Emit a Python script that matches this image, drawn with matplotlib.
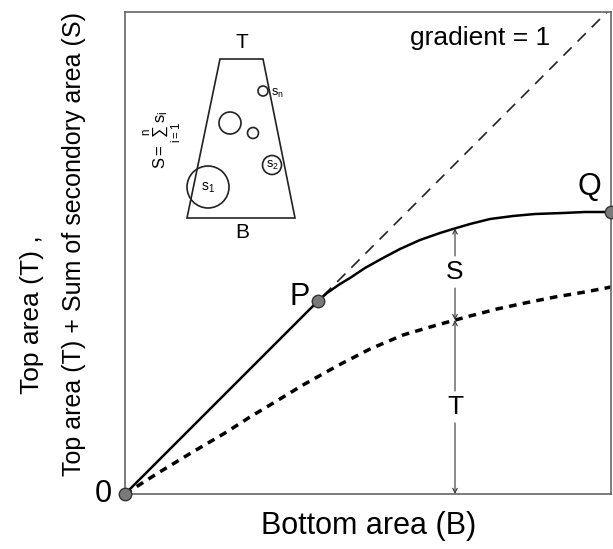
import numpy as np
import matplotlib
matplotlib.use("Agg")
import matplotlib.pyplot as plt
from matplotlib.patches import Circle, Polygon

plt.rcParams['font.family'] = ['Liberation Sans', 'DejaVu Sans']
plt.rcParams['mathtext.fontset'] = 'custom'
plt.rcParams['mathtext.rm'] = 'Liberation Sans'
plt.rcParams['mathtext.it'] = 'Liberation Sans'

# axis extent (arbitrary units, bottom area vs top area)
x_max = 486
y_max = 482

# points 0, P, Q
pt_zero = (0, 0)
pt_p = (193, 193)
pt_q = (486, 282)

# upper curve T + S (solid), from P to Q
x_upper = [193, 202, 215, 225, 240, 258, 275, 295, 315, 328, 345, 365, 388, 410, 438, 460, 486]
y_upper = [193, 201, 210, 216, 226, 236, 245, 254, 261, 265, 270, 275, 278, 280, 281, 282, 282]

# lower curve T (dashed), from 0 to right edge
x_lower = [0, 33, 66, 100, 125, 145, 178, 212, 245, 278, 312, 345, 372, 400, 430, 460, 486]
y_lower = [0, 21, 41, 61, 77, 89, 109, 128, 145, 159, 169, 178, 185, 191, 197, 202, 207]

# inset sketch: trapezoid and circles s_i
trap_x = [95, 138, 170, 62]
trap_y = [435, 435, 276, 276]
circ_x = [83, 147, 105, 128, 138]
circ_y = [307, 329, 371, 361, 403]
circ_r = [21, 9.5, 11, 5.5, 5]

fig = plt.figure(figsize=(6.13, 5.49), dpi=100)
ax = fig.add_axes([125 / 613, 55 / 549, 486 / 613, 482 / 549])
ax.set_xlim(0, x_max)
ax.set_ylim(0, y_max)
ax.set_xticks([])
ax.set_yticks([])
for s in ax.spines.values():
    s.set_color('#666666')
    s.set_linewidth(1.2)

# gradient = 1 line
ax.plot([0, x_max], [0, x_max], color='#222222', lw=1.2, dashes=(7, 5))
ax.plot([pt_zero[0], pt_p[0]], [pt_zero[1], pt_p[1]], color='black', lw=1.8)
ax.plot(x_upper, y_upper, color='black', lw=1.8)
ax.plot(x_lower, y_lower, color='black', lw=2.5, dashes=(2.2, 1.8))

for px, py in [pt_zero, pt_p, pt_q]:
    ax.plot(px, py, 'o', ms=9, mfc='#7a7a7a', mec='#333333', mew=1, clip_on=False, zorder=5)

ax.text(-22, 0, '0', fontsize=22, ha='center', va='center')
ax.text(pt_p[0] - 18, pt_p[1] + 4, 'P', fontsize=22, ha='center', va='center')
ax.text(pt_q[0] - 22, pt_q[1] + 25, 'Q', fontsize=22, ha='center', va='center')
ax.text(355, 456, 'gradient = 1', fontsize=19, ha='center', va='center')

# S and T arrows
ax_x = 330
top_y = np.interp(ax_x, x_upper, y_upper)
mid_y = np.interp(ax_x, x_lower, y_lower)
s_lab = 222
t_lab = 87
ax.text(ax_x, s_lab, 'S', fontsize=19, ha='center', va='center')
ax.text(ax_x, t_lab, 'T', fontsize=19, ha='center', va='center')
ap = dict(arrowstyle='->', lw=0.8, color='#333333', mutation_scale=8, shrinkA=0, shrinkB=0)
ax.annotate('', xy=(ax_x, top_y), xytext=(ax_x, s_lab + 16), arrowprops=ap)
ax.annotate('', xy=(ax_x, mid_y), xytext=(ax_x, s_lab - 16), arrowprops=ap)
ax.annotate('', xy=(ax_x, mid_y), xytext=(ax_x, t_lab + 16), arrowprops=ap)
ax.annotate('', xy=(ax_x, 0), xytext=(ax_x, t_lab - 16), arrowprops=ap)

# inset
ax.add_patch(Polygon(list(zip(trap_x, trap_y)), closed=True, fill=False, ec='#222222', lw=1.2))
for cx, cy, r in zip(circ_x, circ_y, circ_r):
    ax.add_patch(Circle((cx, cy), r, fill=False, ec='#222222', lw=1.2))
ax.text(117, 452, 'T', fontsize=15, ha='center', va='center')
ax.text(117, 261, 'B', fontsize=15, ha='center', va='center')
ax.text(circ_x[0], circ_y[0] - 1, r'$\mathregular{s_1}$', fontsize=10, ha='center', va='center')
ax.text(circ_x[1], circ_y[1], r'$\mathregular{s_2}$', fontsize=9, ha='center', va='center')
ax.text(circ_x[4] + 14, circ_y[4] - 2, r'$\mathregular{s_n}$', fontsize=9, ha='center', va='center')
ax.text(38, 354, r'$S=\sum_{i=1}^{n}s_i$', fontsize=12, rotation=90, ha='center', va='center')

fig.text(32 / 613, 1 - 315 / 549, 'Top area (T) ,', fontsize=19, rotation=90, ha='center', va='center')
fig.text(74 / 613, 1 - 244 / 549, 'Top area (T) + Sum of secondory area (S)', fontsize=18,
         rotation=90, ha='center', va='center')
fig.text(369 / 613, 1 - 526 / 549, 'Bottom area (B)', fontsize=22, ha='center', va='center')

fig.savefig('out.png', dpi=100)
